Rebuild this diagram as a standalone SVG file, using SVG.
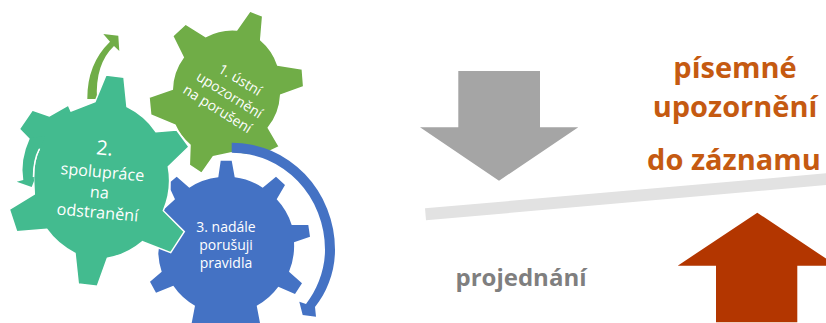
<svg xmlns="http://www.w3.org/2000/svg" width="826" height="323" viewBox="0 0 826 323">
<style>
text{font-family:"Open Sans","Noto Sans","Liberation Sans",sans-serif;text-anchor:middle}
.w{fill:#fff}
.o{fill:#C55A11;font-weight:700;font-size:29px}
.gear{stroke:#fff;stroke-width:1.5;stroke-linejoin:miter}
</style>
<rect width="826" height="323" fill="#fff"/>
<g id="connectors">
<path d="M87.3 99Q87 64 110 41.7L103.3 34L118.3 35.7L119.3 51L114 46Q95 64 97 99Z" fill="#70AD47"/>
</g>
<g id="gear1">
<path class="gear" fill="#70AD47" d="M172.7 36L185.7 24L205.7 36.7A56 56 0 0 1 236.7 30L250 11L262.7 16L260.7 40A56 56 0 0 1 277.7 65L302.3 69L303.7 86.7L280.7 95A56 56 0 0 1 268.3 127.7L279.3 146.7L260 156L231.7 152.7L213.3 156.7L201.7 173.3L189.3 165L190 145A56 56 0 0 1 175 125L150.7 115L149 97.3L172.3 89.3A56 56 0 0 1 183.3 57.3Z"/>
<text class="w" font-size="14" transform="translate(237.7 84) rotate(31)">1. ústní</text>
<text class="w" font-size="14" transform="translate(227 99) rotate(32)">upozornění</text>
<text class="w" font-size="14" transform="translate(215 113) rotate(32)">na porušení</text>
</g>
<g id="gear3">
<path fill="#4472C4" d="M220.7 160.7L231.7 160.7L234.7 177.3A66 66 0 0 1 262.7 187.7L276 176.7L285 185L276.7 199.3A66 66 0 0 1 291.7 225L308.3 225L310 236.7L294 242.3A66 66 0 0 1 289 271.7L302 283.3L295 294L278.3 286.7A66 66 0 0 1 256.7 305.7L260 323L191.7 323L195 305.7A66 66 0 0 1 173.3 285.7L156 292.7L150 281.7L161.7 271.7A66 66 0 0 1 158.3 253.3L163.3 210L175 199.3L170.7 190L170.7 181.7L176.7 176.7L189.3 187.7A66 66 0 0 1 218.3 177.3Z"/>
<path d="M231.7 142.7A103 107 0 0 1 335 250C335 272 327 292 315 307L316 316.7L302.7 315L299.3 301.7L306 304C317 290 325 270 325 250A93 97 0 0 0 231.7 152.7Z" fill="#4472C4"/>
<text class="w" font-size="14" x="226" y="231.5">3. nadále</text>
<text class="w" font-size="14" x="226" y="249.5">porušuji</text>
<text class="w" font-size="14" x="226" y="267.5">pravidla</text>
</g>
<g id="gear2">
<path class="gear" fill="#43BB8F" d="M106 75L124 77.3L127 106.7A76 76 0 0 1 156 131.7L176.7 130L189 146.7L168.3 166.7A76 76 0 0 1 163.3 210.7L184.3 231.7L170.7 252.7L142.3 241.7A76 76 0 0 1 107.3 258.3L97.3 286.3L78.3 284L75 253.3A76 76 0 0 1 46.7 229.3L16.7 231.7L9.3 209.3L34.3 194L33.5 177Q33.5 160 39.3 149L30 140L19.3 129L32.3 110L49.3 116L68.3 105L71 111L95 101.7Z"/>
<path d="M30 138Q20 160 23.3 180L16.7 181.7L31.7 187L34 181L33.5 170Q34 160 39.3 149L46 136Z" fill="#43BB8F"/>
<path d="M39.3 149Q33.5 160 33.5 177" fill="none" stroke="#fff" stroke-width="1.5"/>
<text class="w" font-size="20" transform="translate(104 155) rotate(5)">2.</text>
<text class="w" font-size="16.2" transform="translate(102 177.7) rotate(5)">spolupráce</text>
<text class="w" font-size="16.2" transform="translate(99 198) rotate(5)">na</text>
<text class="w" font-size="16.2" transform="translate(97 218) rotate(5)">odstranění</text>
</g>
<g id="balance">
<path d="M425 208.3L826 173.3L826 185L426 220.3Z" fill="#E2E2E2"/>
</g>
<g id="arrow-down">
<path d="M458.3 71H540V127.3H578.3L499 180.7L420 127.3H458.3Z" fill="#A5A5A5"/>
</g>
<g id="arrow-up">
<path d="M757.3 212.7L836.7 265.7H797.3V322.3H716V265.7H677.7Z" fill="#B33600"/>
</g>
<g id="labels">
<text class="o" x="735" y="78">písemné</text>
<text class="o" x="735" y="117">upozornění</text>
<text class="o" x="734" y="170">do záznamu</text>
<text x="521" y="286" font-size="24" font-weight="700" fill="#7F7F7F">projednání</text>
</g>
</svg>
